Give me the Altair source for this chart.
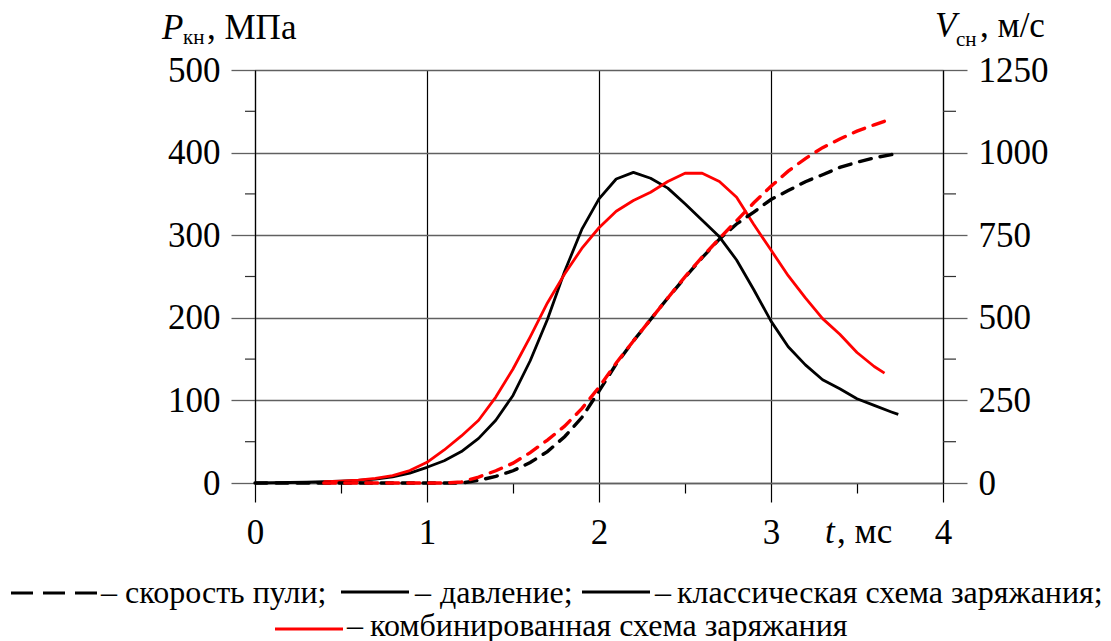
import altair as alt
import pandas as pd

# ---- data ----
t_classic = [0.0, 0.1, 0.2, 0.3, 0.4, 0.5, 0.6, 0.7, 0.8, 0.9, 1.0, 1.1, 1.2, 1.3, 1.4, 1.5,
             1.6, 1.7, 1.8, 1.9, 2.0, 2.1, 2.2, 2.3, 2.4, 2.5, 2.6, 2.7, 2.8, 2.9, 3.0, 3.1,
             3.2, 3.3, 3.4, 3.5, 3.6, 3.7, 3.74]
p_classic = [0, 0.3, 0.6, 1, 1.5, 2.2, 3.2, 4.8, 7.5, 12, 19, 27, 38, 54, 76, 106,
             148, 198, 256, 307, 344, 368, 376, 369, 357, 338, 318, 298, 270, 234, 196, 165,
             143, 125, 114, 102, 94, 86, 83]
v_classic = [0, 0, 0, 0, 0, 0, 0, 0, 0, 0, 0, 0, 0, 8, 20, 37,
             62, 95, 140, 198, 278, 360, 430, 495, 560, 622, 682, 738, 784, 820, 858, 885,
             912, 933, 955, 971, 984, 994, 998]

t_comb = [0.4, 0.5, 0.6, 0.7, 0.8, 0.9, 1.0, 1.1, 1.2, 1.3, 1.4, 1.5, 1.6, 1.7, 1.8, 1.9,
          2.0, 2.1, 2.2, 2.3, 2.4, 2.5, 2.6, 2.7, 2.8, 2.9, 3.0, 3.1, 3.2, 3.3, 3.4, 3.5,
          3.6, 3.66]
p_comb = [1.5, 2.3, 3.5, 5.5, 9, 15, 25, 40, 57, 76, 104, 138, 177, 218, 253, 284,
          309, 329, 342, 352, 365, 375, 375, 365, 346, 313, 282, 251, 224, 199, 180, 158,
          141, 133]
v_comb = [0, 0, 0, 0, 0, 0, 0, 0, 3, 18, 37, 60, 92, 130, 172, 225,
          290, 363, 430, 495, 560, 624, 684, 740, 794, 848, 898, 944, 982, 1015, 1041, 1065,
          1084, 1095]

p_ticks = [0, 100, 200, 300, 400, 500]
v_ticks = [0, 250, 500, 750, 1000, 1250]
t_ticks = [0, 0.5, 1, 1.5, 2, 2.5, 3, 3.5, 4]   # integers labelled, halves are minor ticks
p_minor = [50, 150, 250, 350, 450]

series_names = ["classic", "comb"]
series_colors = ["#000000", "#ff0000"]

rows = []
for s, ts, ps, vs in [("classic", t_classic, p_classic, v_classic),
                      ("comb", t_comb, p_comb, v_comb)]:
    for i, (t, p, v) in enumerate(zip(ts, ps, vs)):
        rows.append({"series": s, "t": t, "P": p, "V": v, "order": i})
df = pd.DataFrame(rows)

FONT = "Liberation Serif, Times New Roman, DejaVu Serif, serif"
W, H = 688, 413
GRID = "#606060"
MINOR = "datum.value % 1 !== 0"

x_enc = alt.X("t:Q", scale=alt.Scale(domain=[0, 4], nice=False, zero=False),
              axis=alt.Axis(values=t_ticks, grid=True, gridColor="#000",
                            gridWidth=1.2,
                            gridOpacity={"condition": {"test": MINOR, "value": 0}, "value": 1},
                            tickSize={"condition": {"test": MINOR, "value": 10}, "value": 19},
                            tickColor="#000", tickWidth=1.2,
                            domainColor=GRID, domainWidth=1.3, labelFont=FONT,
                            labelExpr="datum.value % 1 === 0 ? format(datum.value, 'd') : ''",
                            labelFontSize=35, labelColor="#000", labelBaseline="alphabetic",
                            labelPadding=41, labelFlush=False, labelOverlap=False, title=None))

color_enc = alt.Color("series:N", scale=alt.Scale(domain=series_names, range=series_colors),
                      legend=None)

p_layer = alt.Chart(df).mark_line(strokeWidth=2.8, strokeJoin="round").encode(
    x=x_enc,
    y=alt.Y("P:Q", scale=alt.Scale(domain=[0, 500], nice=False),
            axis=alt.Axis(orient="left", values=p_ticks, format="d", grid=True, gridColor=GRID,
                          gridWidth=1.3, tickSize=24, tickColor=GRID, tickWidth=1.3,
                          domainColor="#000", domainWidth=1.2, labelFont=FONT,
                          labelFontSize=35, labelPadding=11, labelColor="#000",
                          labelFlush=False, labelOverlap=False, title=None)),
    color=color_enc,
    order="order:Q",
)

v_layer = alt.Chart(df).mark_line(strokeWidth=3.4, strokeDash=[12, 9], strokeCap="round").encode(
    x=x_enc,
    y=alt.Y("V:Q", scale=alt.Scale(domain=[0, 1250], nice=False),
            axis=alt.Axis(orient="right", values=v_ticks, format="d", grid=False, tickSize=24,
                          tickColor=GRID, tickWidth=1.3, domainColor="#000", domainWidth=1.2,
                          labelFont=FONT, labelFontSize=35, labelPadding=11,
                          labelColor="#000", labelFlush=False, labelOverlap=False,
                          title=None)),
    color=color_enc,
    order="order:Q",
)

minor_left = alt.Chart(pd.DataFrame({"m": p_minor})).mark_rule(color="#303030", strokeWidth=1.2).encode(
    y=alt.Y("m:Q", scale=alt.Scale(domain=[0, 500], nice=False), axis=None),
    x=alt.value(-10), x2=alt.value(0))
minor_right = alt.Chart(pd.DataFrame({"m": p_minor})).mark_rule(color="#303030", strokeWidth=1.2).encode(
    y=alt.Y("m:Q", scale=alt.Scale(domain=[0, 500], nice=False), axis=None),
    x=alt.value(W), x2=alt.value(W + 13))


def txt(s, x, y, size=35, style="normal"):
    return alt.Chart(pd.DataFrame({"s": [s]})).mark_text(
        align="left", baseline="alphabetic", font=FONT, fontSize=size,
        fontStyle=style, color="#000").encode(x=alt.value(x), y=alt.value(y), text="s:N")


def sample(x1, x2, y, color, dash=None, width=3):
    kw = dict(color=color, strokeWidth=width)
    if dash:
        kw["strokeDash"] = dash
    return alt.Chart(pd.DataFrame({"k": [0]})).mark_rule(**kw).encode(
        x=alt.value(x1), x2=alt.value(x2), y=alt.value(y))


texts = [
    txt("P", -93, -31, 35, "italic"),
    txt("кн", -72, -26, 21),
    txt(", МПа", -48, -31, 35),
    txt("V", 680, -33, 35, "italic"),
    txt("сн", 701, -24, 21),
    txt(", м/с", 725, -33, 35),
    txt("t", 570, 473, 35, "italic"),
    txt(", мс", 582, 473, 35),
    # caption
    txt("–", -154, 533, 32),
    txt("скорость пули;", -130, 533, 32),
    txt("–", 160, 533, 32),
    txt("давление;", 185, 533, 32),
    txt("–", 400, 533, 32),
    txt("классическая схема заряжания;", 422, 533, 32),
    txt("–", 92, 566, 32),
    txt("комбинированная схема заряжания", 115, 566, 32),
]

samples = [
    sample(-244, -158, 523, "#000", dash=[22, 10], width=3),
    sample(86, 154, 522, "#000"),
    sample(327, 395, 522, "#000"),
    sample(20, 88, 559, "#ff0000"),
]

chart = alt.layer(p_layer, v_layer, minor_left, minor_right, *texts, *samples).resolve_scale(
    y="independent"
).properties(
    width=W, height=H,
    autosize=alt.AutoSizeParams(type="none"),
    padding={"left": 247, "top": 62, "right": 160, "bottom": 158},
    background="white",
).configure_view(stroke=None)

chart.save("out.html", embed_options={"renderer": "svg", "actions": False})
